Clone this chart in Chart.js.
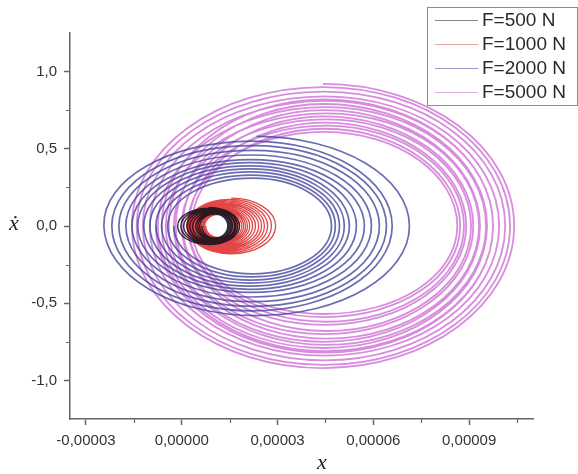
<!DOCTYPE html>
<html>
<head>
<meta charset="utf-8">
<script src="https://cdn.jsdelivr.net/npm/chart.js@4.4.1/dist/chart.umd.min.js"></script>
<style>
  html, body { margin: 0; padding: 0; background: #fff; }
  #wrap { width: 578px; height: 474px; }
</style>
</head>
<body>
<div id="wrap"><canvas id="phaseChart" width="578" height="474"></canvas></div>
<script>
// Phase trajectories, one loop per entry: x extremes in 1e-5 m, velocity extremes in m/s
const forceLabels = ['F=500 N', 'F=1000 N', 'F=2000 N', 'F=5000 N'];

const f500Left   = [-0.13, -0.03, 0.06, 0.16, 0.25, 0.34, 0.44, 0.50, 0.56, 0.63];
const f500Right  = [1.81, 1.75, 1.69, 1.66, 1.59, 1.56, 1.53, 1.50, 1.47, 1.44];
const f500Top    = [0.12, 0.115, 0.11, 0.105, 0.10, 0.095, 0.09, 0.085, 0.08, 0.077];
const f500Bottom = [-0.12, -0.115, -0.11, -0.105, -0.10, -0.095, -0.09, -0.085, -0.08, -0.077];

const f1000Left   = [0.16, 0.19, 0.22, 0.25, 0.28, 0.31, 0.34, 0.38, 0.41, 0.44, 0.47, 0.50, 0.53, 0.56, 0.59, 0.63, 0.66, 0.69, 0.72, 0.75];
const f1000Right  = [2.94, 2.81, 2.69, 2.59, 2.50, 2.41, 2.31, 2.22, 2.13, 2.06, 2.00, 1.94, 1.88, 1.81, 1.75, 1.72, 1.69, 1.66, 1.63, 1.59];
const f1000Top    = [0.18, 0.172, 0.164, 0.156, 0.148, 0.141, 0.134, 0.127, 0.121, 0.115, 0.109, 0.104, 0.099, 0.094, 0.09, 0.086, 0.083, 0.08, 0.077, 0.075];
const f1000Bottom = [-0.18, -0.172, -0.164, -0.156, -0.148, -0.141, -0.134, -0.127, -0.121, -0.115, -0.109, -0.104, -0.099, -0.094, -0.09, -0.086, -0.083, -0.08, -0.077, -0.075];

const f2000Left   = [-2.44, -2.19, -1.97, -1.75, -1.56, -1.38, -1.19, -1.00, -0.81, -0.63, -0.44, -0.25];
const f2000Right  = [7.13, 6.59, 6.41, 6.19, 5.94, 5.72, 5.47, 5.25, 5.09, 4.94, 4.81, 4.69];
const f2000Top    = [0.58, 0.55, 0.52, 0.49, 0.46, 0.43, 0.41, 0.39, 0.37, 0.35, 0.33, 0.31];
const f2000Bottom = [-0.58, -0.55, -0.52, -0.49, -0.46, -0.43, -0.41, -0.39, -0.37, -0.35, -0.33, -0.31];

const f5000Left   = [-1.56, -1.41, -1.22, -1.00, -0.75, -0.50, -0.25, 0.00, 0.19, 0.31, 0.22, 0.03, -0.19, -0.41, -0.63, -0.81];
const f5000Right  = [10.41, 10.28, 10.13, 9.94, 9.75, 9.53, 9.31, 9.06, 8.84, 8.63, 8.72, 8.91, 9.13, 9.34, 9.56, 9.75];
const f5000Top    = [0.92, 0.90, 0.87, 0.84, 0.81, 0.77, 0.73, 0.69, 0.65, 0.61, 0.63, 0.67, 0.71, 0.75, 0.79, 0.82];
const f5000Bottom = [-0.92, -0.90, -0.87, -0.84, -0.81, -0.77, -0.73, -0.68, -0.62, -0.57, -0.59, -0.64, -0.70, -0.75, -0.79, -0.82];

// axis ticks
const xTickValues = [-0.00003, 0, 0.00003, 0.00006, 0.00009];
const xMinorTicks = [-0.000015, 0.000015, 0.000045, 0.000075, 0.000105];
const yTickValues = [-1.0, -0.5, 0.0, 0.5, 1.0];
const yMinorTicks = [-0.75, -0.25, 0.25, 0.75];

const lineColors   = ['rgba(18, 18, 28, 0.88)', 'rgba(220, 24, 24, 0.8)', 'rgba(70, 70, 158, 0.8)', 'rgba(192, 70, 200, 0.62)'];
const lineWidths   = [1.4, 1.3, 1.7, 1.8];
const legendColors = ['#8a8a8a', '#e6a3a3', '#9a9ac8', '#e2a6e4'];
const axisColor = '#666';
const sansFont = "'Liberation Sans', Arial, sans-serif";

// lead-in left point, then each loop top -> right -> bottom -> left, then a tail top point;
// lead-in and tail segments are hidden, they only shape the spline at both ends
function trajectory(left, right, top, bottom) {
  const pts = [{ x: left[0] * 1e-5, y: 0 }];
  for (let i = 0; i < left.length; i++) {
    const mid = (left[i] + right[i]) / 2 * 1e-5;
    pts.push({ x: mid, y: top[i] });
    pts.push({ x: right[i] * 1e-5, y: 0 });
    pts.push({ x: mid, y: bottom[i] });
    pts.push({ x: left[i] * 1e-5, y: 0 });
  }
  const n = left.length - 1;
  pts.push({ x: (left[n] + right[n]) / 2 * 1e-5, y: top[n] });
  return pts;
}

const series = [
  trajectory(f500Left, f500Right, f500Top, f500Bottom),
  trajectory(f1000Left, f1000Right, f1000Top, f1000Bottom),
  trajectory(f2000Left, f2000Right, f2000Top, f2000Bottom),
  trajectory(f5000Left, f5000Right, f5000Top, f5000Bottom)
];

const commaFixed = (v, d) => v.toFixed(d).replace('.', ',');

const decorPlugin = {
  id: 'decor',
  afterDraw(chart) {
    const { ctx, scales: { x, y } } = chart;
    ctx.save();

    // minor ticks
    ctx.strokeStyle = axisColor;
    ctx.lineWidth = 1.2;
    ctx.beginPath();
    xMinorTicks.forEach(v => {
      const px = Math.round(x.getPixelForValue(v)) + 0.5;
      ctx.moveTo(px, x.top);
      ctx.lineTo(px, x.top + 4);
    });
    yMinorTicks.forEach(v => {
      const py = Math.round(y.getPixelForValue(v)) + 0.5;
      ctx.moveTo(y.right - 4, py);
      ctx.lineTo(y.right, py);
    });
    ctx.stroke();

    // axis titles
    ctx.fillStyle = '#222';
    ctx.font = "italic 22px 'Liberation Serif', 'DejaVu Serif', serif";
    ctx.textAlign = 'center';
    ctx.textBaseline = 'middle';
    ctx.fillText('\u1E8B', 14, y.getPixelForValue(0) - 2);
    ctx.fillText('x', 322, 463);

    // legend box
    const boxL = 427.5, boxT = 7.5, boxW = 150, boxH = 98;
    ctx.fillStyle = '#fff';
    ctx.fillRect(boxL, boxT, boxW, boxH);
    ctx.strokeStyle = '#8c8c8c';
    ctx.lineWidth = 1;
    ctx.strokeRect(boxL, boxT, boxW, boxH);
    ctx.font = '19px ' + sansFont;
    ctx.textAlign = 'left';
    chart.data.datasets.forEach((ds, i) => {
      const cy = 20 + i * 24;
      ctx.strokeStyle = legendColors[i];
      ctx.lineWidth = 1.2;
      ctx.beginPath();
      ctx.moveTo(435, cy + 0.5);
      ctx.lineTo(478, cy + 0.5);
      ctx.stroke();
      ctx.fillStyle = '#2a2a2a';
      ctx.fillText(ds.label, 482, cy + 1);
    });
    ctx.restore();
  }
};

new Chart(document.getElementById('phaseChart'), {
  type: 'line',
  data: {
    datasets: series.map((pts, i) => ({
      label: forceLabels[i],
      data: pts,
      borderColor: lineColors[i],
      borderWidth: lineWidths[i],
      pointRadius: 0,
      fill: false,
      tension: 0.552,
      cubicInterpolationMode: 'default',
      segment: {
        borderColor: c => (c.p0DataIndex === 0 || c.p1DataIndex === pts.length - 1) ? 'rgba(0,0,0,0)' : undefined
      }
    }))
  },
  options: {
    responsive: false,
    animation: false,
    events: [],
    layout: { padding: { top: 33, right: 45, left: 0, bottom: 0 } },
    plugins: {
      legend: { display: false },
      tooltip: { enabled: false }
    },
    scales: {
      x: {
        type: 'linear',
        min: -0.000035,
        max: 0.00011,
        border: { color: axisColor, width: 1.5 },
        grid: { drawOnChartArea: false, tickLength: 6, tickColor: axisColor, tickWidth: 1.5 },
        ticks: {
          font: { family: sansFont, size: 15 },
          color: '#333',
          padding: 7,
          maxRotation: 0,
          callback: v => commaFixed(v, 5)
        },
        afterBuildTicks: s => { s.ticks = xTickValues.map(v => ({ value: v })); },
        afterFit: s => { s.height = 55; }
      },
      y: {
        type: 'linear',
        min: -1.25,
        max: 1.25,
        border: { color: axisColor, width: 1.5 },
        grid: { drawOnChartArea: false, tickLength: 6, tickColor: axisColor, tickWidth: 1.5 },
        ticks: {
          font: { family: sansFont, size: 15 },
          color: '#333',
          padding: 7,
          callback: v => commaFixed(v, 1)
        },
        afterBuildTicks: s => { s.ticks = yTickValues.map(v => ({ value: v })); },
        afterFit: s => { s.width = 70; }
      }
    }
  },
  plugins: [decorPlugin]
});
</script>
</body>
</html>
